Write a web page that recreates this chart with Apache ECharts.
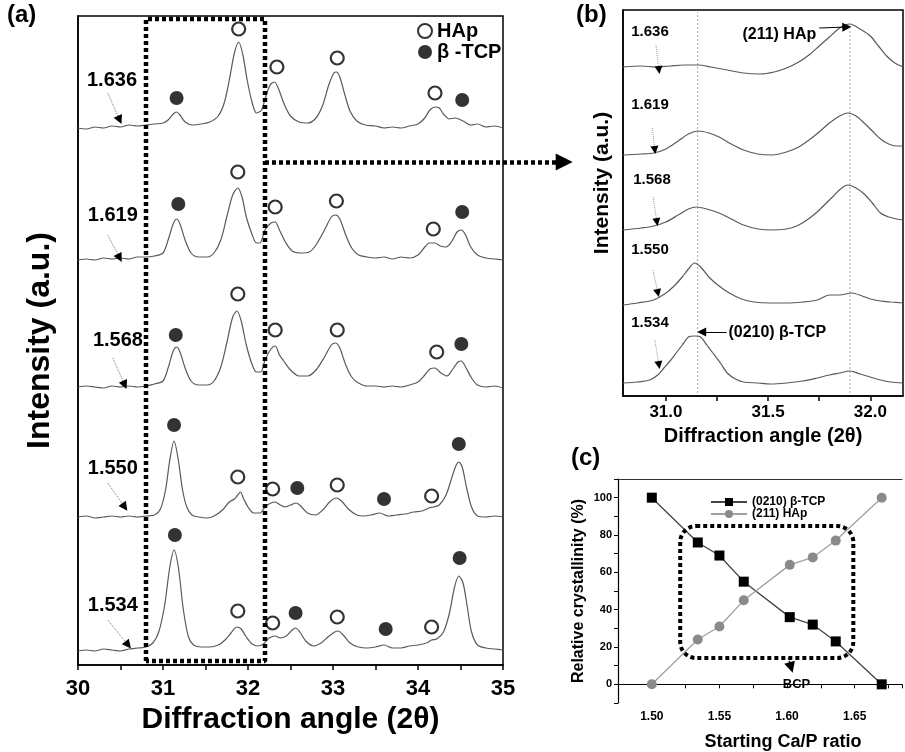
<!DOCTYPE html>
<html><head><meta charset="utf-8">
<script src="https://cdn.jsdelivr.net/npm/echarts@6.0.0/dist/echarts.min.js"></script>
<style>html,body{margin:0;padding:0;background:#fff;overflow:hidden}#c{width:905px;height:752px}</style>
</head><body><div id="c"></div>
<script>
const FONT = "'Liberation Sans', Arial, Helvetica, sans-serif";

// ---------------- panel (a): XRD patterns 30-35 deg (intensity a.u., stacked) ----------------
const ratiosA = ['1.636', '1.619', '1.568', '1.550', '1.534'];
const xrd1636 = [[30.00,537],[30.1,536],[30.2,538],[30.3,537],[30.4,539],[30.5,538],[30.6,540],[30.7,539],[30.8,540],[30.9,541],[31.0,542],[31.06,545],[31.12,551],[31.16,553],[31.2,550],[31.26,543],[31.35,540],[31.45,541],[31.55,543],[31.65,549],[31.72,562],[31.78,585],[31.84,612],[31.89,623],[31.94,610],[31.99,585],[32.05,562],[32.1,552],[32.16,555],[32.2,566],[32.26,580],[32.31,583],[32.36,576],[32.42,562],[32.5,549],[32.6,543],[32.7,542],[32.8,547],[32.88,560],[32.95,580],[33.01,592],[33.04,593],[33.08,588],[33.14,570],[33.2,554],[33.28,544],[33.38,540],[33.5,539],[33.6,537],[33.7,538],[33.8,537],[33.9,539],[34.0,541],[34.08,547],[34.14,555],[34.2,558],[34.25,557],[34.3,551],[34.37,546],[34.43,547],[34.48,546],[34.55,543],[34.62,540],[34.7,541],[34.8,538],[34.9,539],[35.0,537]];
const xrd1619 = [[30.0,405],[30.1,406],[30.2,405],[30.3,407],[30.4,406],[30.5,407],[30.6,406],[30.7,408],[30.8,408],[30.9,409],[31.0,412],[31.06,425],[31.12,441],[31.16,446],[31.2,441],[31.26,425],[31.33,412],[31.42,408],[31.52,408],[31.6,412],[31.68,425],[31.75,448],[31.82,470],[31.88,477],[31.93,468],[31.98,448],[32.05,430],[32.1,422],[32.14,422],[32.2,435],[32.27,442],[32.32,443],[32.37,435],[32.44,423],[32.52,414],[32.62,412],[32.72,413],[32.8,420],[32.9,435],[32.98,448],[33.03,450],[33.08,446],[33.15,430],[33.22,417],[33.3,410],[33.4,408],[33.5,407],[33.6,408],[33.7,406],[33.8,408],[33.9,407],[34.0,410],[34.08,418],[34.13,422],[34.2,422],[34.26,419],[34.33,418],[34.4,424],[34.46,433],[34.51,435],[34.56,430],[34.62,418],[34.7,410],[34.8,407],[34.9,406],[35.0,405]];
const xrd1568 = [[30.0,278],[30.1,279],[30.2,278],[30.3,277],[30.4,279],[30.5,278],[30.6,279],[30.7,278],[30.8,279],[30.9,281],[31.0,284],[31.06,297],[31.12,314],[31.16,318],[31.2,313],[31.26,297],[31.33,284],[31.42,280],[31.52,280],[31.6,284],[31.68,298],[31.75,322],[31.82,348],[31.87,354],[31.92,344],[31.98,320],[32.05,300],[32.1,293],[32.15,293],[32.2,305],[32.27,316],[32.32,319],[32.37,310],[32.42,304],[32.5,295],[32.6,289],[32.7,289],[32.8,295],[32.9,308],[32.98,320],[33.03,322],[33.08,317],[33.15,300],[33.22,288],[33.3,282],[33.4,279],[33.5,279],[33.6,278],[33.7,279],[33.8,278],[33.9,280],[34.0,283],[34.08,290],[34.14,296],[34.2,297],[34.27,292],[34.34,289],[34.41,296],[34.47,303],[34.51,304],[34.56,298],[34.63,287],[34.7,280],[34.8,278],[34.9,279],[35.0,277]];
const xrd1550 = [[30.0,148],[30.1,149],[30.2,147],[30.3,148],[30.4,149],[30.5,148],[30.6,149],[30.7,148],[30.8,149],[30.9,150],[30.97,156],[31.03,175],[31.08,205],[31.13,224],[31.18,205],[31.23,175],[31.28,158],[31.34,150],[31.42,148],[31.52,147],[31.6,149],[31.7,155],[31.78,163],[31.84,166],[31.88,170],[31.91,173],[31.95,166],[32.0,158],[32.07,152],[32.14,152],[32.2,158],[32.27,162],[32.32,163],[32.38,160],[32.44,158],[32.5,160],[32.57,162],[32.63,158],[32.7,152],[32.79,150],[32.88,155],[32.96,163],[33.04,167],[33.1,164],[33.18,156],[33.28,150],[33.36,149],[33.45,150],[33.55,152],[33.65,149],[33.75,150],[33.85,151],[33.95,153],[34.05,154],[34.13,157],[34.18,158],[34.25,160],[34.33,170],[34.4,188],[34.45,200],[34.48,203],[34.52,198],[34.57,178],[34.63,158],[34.7,149],[34.8,148],[34.9,149],[35.0,148]];
const xrd1534 = [[30.0,14],[30.1,15],[30.2,14],[30.3,16],[30.4,15],[30.5,14],[30.6,16],[30.7,17],[30.8,18],[30.88,22],[30.95,33],[31.02,60],[31.08,98],[31.13,115],[31.18,98],[31.24,55],[31.3,28],[31.36,20],[31.45,18],[31.55,18],[31.65,20],[31.73,25],[31.8,32],[31.87,38],[31.92,36],[31.98,28],[32.05,21],[32.12,19],[32.18,21],[32.25,27],[32.32,29],[32.38,27],[32.45,29],[32.52,35],[32.56,37],[32.61,33],[32.68,24],[32.77,19],[32.86,22],[32.94,28],[33.02,33],[33.06,34],[33.12,30],[33.2,22],[33.3,18],[33.4,17],[33.5,18],[33.6,20],[33.7,17],[33.8,17],[33.9,19],[34.0,20],[34.1,22],[34.16,25],[34.22,26],[34.3,33],[34.37,52],[34.43,78],[34.48,89],[34.53,82],[34.58,58],[34.63,33],[34.7,20],[34.8,17],[34.9,16],[35.0,15]];
const hapPeaksA = [[31.89,636],[32.34,598],[33.05,607],[34.2,572],
                   [31.88,493],[32.32,458],[33.04,464],[34.18,436],
                   [31.88,371],[32.32,335],[33.05,335],[34.22,313],
                   [31.88,188],[32.29,176],[33.05,180],[34.16,169],
                   [31.88,54],[32.29,42],[33.05,48],[34.16,38]];
const tcpPeaksA = [[31.16,567],[34.52,565],
                   [31.18,461],[34.52,453],
                   [31.15,330],[34.51,321],
                   [31.13,240],[32.58,177],[33.6,166],[34.48,221],
                   [31.14,130],[32.56,52],[33.62,36],[34.49,107]];
const labelPosA = [[30.4,585],[30.41,450],[30.47,325],[30.41,197],[30.41,60]];
const labelArrowsA = [[[30.35,572],[30.49,545]],[[30.35,430],[30.49,407]],[[30.41,307],[30.55,280]],[[30.35,182],[30.55,158]],[[30.35,45],[30.59,20]]];
const zoomBoxA = [[30.8,4],[30.8,646],[32.2,646],[32.2,4],[30.8,4]];
const zoomArrowA = [[32.2,503],[35.72,503]];

// ---------------- panel (b): enlarged 30.8-32.15 deg ----------------
const ratiosB = ['1.636', '1.619', '1.568', '1.550', '1.534'];
const zoom1636 = [[30.79,329],[30.88,330],[30.95,329],[31.02,330],[31.09,331],[31.16,331],[31.22,329],[31.3,326],[31.38,323],[31.46,322],[31.53,324],[31.59,328],[31.65,334],[31.7,341],[31.75,350],[31.8,359],[31.85,368],[31.9,372],[31.95,367],[32.0,360],[32.04,350],[32.08,340],[32.12,333],[32.16,329]];
const zoom1619 = [[30.79,241],[30.88,242],[30.94,243],[31.0,247],[31.06,255],[31.11,262],[31.16,265],[31.21,263],[31.26,259],[31.32,252],[31.38,246],[31.45,242],[31.52,241],[31.59,244],[31.65,249],[31.7,256],[31.75,264],[31.8,273],[31.85,280],[31.89,283],[31.93,280],[31.97,273],[32.01,265],[32.05,257],[32.09,252],[32.13,250],[32.16,250]];
const zoom1568 = [[30.79,166],[30.88,168],[30.94,170],[31.0,174],[31.06,181],[31.11,187],[31.15,189],[31.2,187],[31.26,183],[31.32,177],[31.38,171],[31.45,167],[31.52,166],[31.59,167],[31.64,170],[31.69,176],[31.74,184],[31.78,192],[31.82,200],[31.86,208],[31.89,211],[31.93,208],[31.97,202],[32.01,193],[32.05,183],[32.09,179],[32.13,177],[32.16,176]];
const zoom1550 = [[30.79,91],[30.86,93],[30.94,96],[31.0,103],[31.04,110],[31.08,119],[31.11,127],[31.14,133],[31.17,129],[31.21,119],[31.26,110],[31.31,103],[31.37,97],[31.43,94],[31.51,93],[31.59,93],[31.67,94],[31.74,96],[31.8,101],[31.85,101],[31.91,103],[31.96,100],[32.0,97],[32.05,95],[32.1,94],[32.16,93]];
const zoom1534 = [[30.79,13],[30.86,14],[30.92,16],[30.96,21],[30.99,28],[31.02,35],[31.05,43],[31.08,51],[31.11,59],[31.14,60],[31.17,59],[31.2,51],[31.23,43],[31.27,32],[31.3,23],[31.34,17],[31.38,14],[31.45,13],[31.51,12],[31.59,13],[31.67,15],[31.74,18],[31.8,21],[31.85,23],[31.9,25],[31.95,22],[32.0,19],[32.05,16],[32.1,14],[32.16,13]];
const refLinesB = [[[31.155,3],[31.155,384]],[[31.9,3],[31.9,371]]];
const labelPosB = [[30.922,364],[30.922,291],[30.932,216],[30.922,146],[30.922,73]];
const labelArrowsB = [[[30.951,351],[30.966,326]],[[30.934,268],[30.946,246]],[[30.937,199],[30.956,174]],[[30.937,126],[30.961,103]],[[30.946,56],[30.966,31]]];
const peakNamesB = ['(211) HAp', '(0210) β-TCP'];
const peakNamePosB = [[31.555,361],[31.545,63]];
const peakArrowsB = [[[31.75,368],[31.885,369]],[[31.297,64],[31.175,64]]];

// ---------------- panel (c): relative crystallinity ----------------
const caP = [1.50, 1.534, 1.550, 1.568, 1.602, 1.619, 1.636, 1.67];
const tcpCryst = [100, 76, 69, 55, 36, 32, 23, 0];
const hapCryst = [0, 24, 31, 45, 64, 68, 77, 100];
const bcpCorners = [[1.521,84.8],[1.649,14.1]];
const bcpArrow = [[1.601,14],[1.603,9]];
const bcpLabelPos = [1.607, 0];

const chart = echarts.init(document.getElementById('c'), null, {renderer: 'canvas'});

const bold = (size) => ({fontFamily: FONT, fontWeight: 'bold', fontSize: size, color: '#000'});
const pair = (xs, ys) => xs.map((x, i) => [x, ys[i]]);

function curve(name, data, idx) {
  return {type: 'line', name: name, xAxisIndex: idx, yAxisIndex: idx, data: data, showSymbol: false,
    smooth: 0.3, lineStyle: {color: '#5a5a5a', width: 1.2}, z: 3, silent: true};
}
function arrows(list, idx, lineColor, dash, width, headSize, clip) {
  return [
    {type: 'lines', coordinateSystem: 'cartesian2d', xAxisIndex: idx, yAxisIndex: idx, clip: clip,
      data: list.map(c => ({coords: c})), symbol: ['none', 'none'],
      lineStyle: {color: lineColor, width: width, type: dash, opacity: 1}, z: 6, silent: true},
    {type: 'lines', coordinateSystem: 'cartesian2d', xAxisIndex: idx, yAxisIndex: idx, clip: clip,
      data: list.map(c => ({coords: c})), symbol: ['none', 'triangle'], symbolSize: headSize,
      lineStyle: {color: '#000', width: 0, opacity: 1}, z: 7, silent: true}
  ];
}
function textMarks(pos, texts, idx, size) {
  return {type: 'scatter', xAxisIndex: idx, yAxisIndex: idx, symbolSize: 0.01,
    itemStyle: {color: '#000'}, z: 8, silent: true,
    data: pos.map((p, i) => ({value: p, name: texts[i]})),
    label: Object.assign({show: true, position: [0, 0], align: 'center', verticalAlign: 'middle', formatter: '{b}',
      textBorderWidth: 0, opacity: 1}, bold(size))};
}

const series = [];
// (a)
[xrd1636, xrd1619, xrd1568, xrd1550, xrd1534].forEach((d, i) => series.push(curve('a' + ratiosA[i], d, 0)));
series.push({type: 'scatter', name: 'HAp', xAxisIndex: 0, yAxisIndex: 0, data: hapPeaksA, symbol: 'circle', symbolSize: 13,
  itemStyle: {color: '#fff', borderColor: '#000', borderWidth: 2.2}, z: 5, silent: true});
series.push({type: 'scatter', name: 'β -TCP', xAxisIndex: 0, yAxisIndex: 0, data: tcpPeaksA, symbol: 'circle', symbolSize: 14,
  itemStyle: {color: '#000'}, z: 5, silent: true});
series.push(textMarks(labelPosA, ratiosA, 0, 20));
series.push(...arrows(labelArrowsA, 0, '#777', 'dotted', 1, 9, true));
series.push({type: 'line', name: 'box', xAxisIndex: 0, yAxisIndex: 0, data: zoomBoxA, showSymbol: false, silent: true,
  lineStyle: {color: '#000', width: 4.5, type: [4, 3]}, z: 6});
series.push({type: 'lines', coordinateSystem: 'cartesian2d', xAxisIndex: 0, yAxisIndex: 0, clip: false, silent: true,
  data: [{coords: zoomArrowA}], symbol: ['none', 'triangle'], symbolSize: 17,
  lineStyle: {color: '#000', width: 4.5, type: [4, 3], opacity: 1}, z: 6});
// (b)
[zoom1636, zoom1619, zoom1568, zoom1550, zoom1534].forEach((d, i) => series.push(curve('b' + ratiosB[i], d, 1)));
refLinesB.forEach(r => series.push({type: 'line', xAxisIndex: 1, yAxisIndex: 1, data: r, showSymbol: false, silent: true,
  lineStyle: {color: '#aaa', width: 1, type: [2, 2]}, z: 2}));
series.push(textMarks(labelPosB, ratiosB, 1, 15));
series.push(...arrows(labelArrowsB, 1, '#999', 'dotted', 1, 8, true));
series.push(textMarks(peakNamePosB, peakNamesB, 1, 16));
series.push(...arrows(peakArrowsB, 1, '#000', 'solid', 1, 9, true));
// (c)
series.push({type: 'line', name: '(0210) β-TCP', xAxisIndex: 2, yAxisIndex: 2, data: pair(caP, tcpCryst),
  symbol: 'rect', symbolSize: 10, itemStyle: {color: '#000'}, lineStyle: {color: '#444', width: 1.3}, z: 4, silent: true});
series.push({type: 'line', name: '(211) HAp', xAxisIndex: 2, yAxisIndex: 2, data: pair(caP, hapCryst),
  symbol: 'circle', symbolSize: 10, itemStyle: {color: '#8a8a8a'}, lineStyle: {color: '#a0a0a0', width: 1.3}, z: 4, silent: true});
series.push(...arrows([bcpArrow], 2, '#000', 'dotted', 1.5, 11, false));
series.push(textMarks([bcpLabelPos], ['BCP'], 2, 13));

const frameAxis = (extra) => Object.assign({axisLine: {show: true, lineStyle: {color: '#000', width: 1.5}}, splitLine: {show: false}}, extra);

const option = {
  animation: false,
  backgroundColor: '#fff',
  textStyle: {fontFamily: FONT},
  title: [
    {text: '(a)', left: 7, top: 3, padding: 0, textStyle: bold(24)},
    {text: '(b)', left: 576, top: 3, padding: 0, textStyle: bold(24)},
    {text: '(c)', left: 571, top: 446, padding: 0, textStyle: bold(24)}
  ],
  legend: [
    {data: ['HAp', 'β -TCP'], left: 417, top: 21, orient: 'vertical', itemGap: 1, itemWidth: 14, itemHeight: 14,
      icon: 'circle', padding: 0, selectedMode: false, textStyle: bold(20)},
    {data: ['(0210) β-TCP', '(211) HAp'], left: 710, top: 496, orient: 'vertical', itemGap: 0, itemWidth: 36, itemHeight: 10,
      padding: 0, selectedMode: false, textStyle: bold(12)}
  ],
  grid: [
    {left: 78, top: 16, width: 425, height: 649, show: true, borderColor: '#000', borderWidth: 1.5, backgroundColor: 'transparent'},
    {left: 623, top: 10, width: 280, height: 386, show: true, borderColor: '#000', borderWidth: 1.5, backgroundColor: 'transparent'},
    {left: 618, top: 479, width: 284, height: 224, show: false}
  ],
  xAxis: [
    frameAxis({type: 'value', gridIndex: 0, min: 30, max: 35, interval: 0.5,
      axisTick: {show: true, inside: false, length: 5, lineStyle: {color: '#000', width: 1.5}},
      axisLabel: Object.assign({margin: 13, formatter: v => (Math.abs(v - Math.round(v)) < 1e-6 ? String(Math.round(v)) : '')}, bold(22)),
      name: 'Diffraction angle (2θ)', nameLocation: 'middle', nameGap: 37, nameTextStyle: bold(30)}),
    frameAxis({type: 'value', gridIndex: 1, min: 30.79, max: 32.16,
      axisTick: {show: true, inside: false, length: 5, customValues: [31.0, 31.25, 31.5, 31.75, 32.0], lineStyle: {color: '#000', width: 1.5}},
      axisLabel: Object.assign({margin: 8, customValues: [31.0, 31.5, 32.0], formatter: v => v.toFixed(1)}, bold(17)),
      name: 'Diffraction angle (2θ)', nameLocation: 'middle', nameGap: 30, nameTextStyle: bold(20)}),
    frameAxis({type: 'value', gridIndex: 2, min: 1.475, max: 1.685, interval: 0.025,
      axisLine: {show: true, lineStyle: {color: '#000', width: 1.2}},
      axisTick: {show: true, inside: false, length: 4, lineStyle: {color: '#000', width: 1}},
      axisLabel: Object.assign({margin: 8, formatter: v => (Math.round(v * 1000) % 50 === 0 ? v.toFixed(2) : '')}, bold(12)),
      name: 'Starting Ca/P ratio', nameLocation: 'middle', nameGap: 30,
      nameTextStyle: Object.assign({padding: [0, 0, 0, 46]}, bold(18))}),
    {type: 'value', gridIndex: 2, position: 'top', min: 1.475, max: 1.685,
      axisLine: {show: true, lineStyle: {color: '#333', width: 1}}, axisTick: {show: false}, axisLabel: {show: false}, splitLine: {show: false}}
  ],
  yAxis: [
    frameAxis({type: 'value', gridIndex: 0, min: 0, max: 649, axisTick: {show: false}, axisLabel: {show: false},
      name: 'Intensity (a.u.)', nameLocation: 'middle', nameRotate: 90, nameGap: 22, nameTextStyle: bold(32)}),
    frameAxis({type: 'value', gridIndex: 1, min: 0, max: 386, axisTick: {show: false}, axisLabel: {show: false},
      name: 'Intensity (a.u.)', nameLocation: 'middle', nameRotate: 90, nameGap: 10,
      nameTextStyle: Object.assign({padding: [0, 0, 0, 40]}, bold(21))}),
    frameAxis({type: 'value', gridIndex: 2, min: -10, max: 110, interval: 10,
      axisLine: {show: true, lineStyle: {color: '#000', width: 1.2}},
      axisTick: {show: true, inside: false, length: 4, lineStyle: {color: '#000', width: 1}},
      axisLabel: Object.assign({margin: 6, formatter: v => (v >= 0 && v <= 100 && Math.round(v) % 20 === 0 ? String(Math.round(v)) : '')}, bold(11)),
      name: 'Relative crystallinity (%)', nameLocation: 'middle', nameRotate: 90, nameGap: 31, nameTextStyle: bold(16)})
  ],
  series: series
};
chart.setOption(option);

// BCP rounded dotted frame, positioned from data coordinates of panel (c)
const p1 = chart.convertToPixel({xAxisIndex: 2, yAxisIndex: 2}, bcpCorners[0]);
const p2 = chart.convertToPixel({xAxisIndex: 2, yAxisIndex: 2}, bcpCorners[1]);
chart.setOption({graphic: [{type: 'rect', z: 10, silent: true,
  shape: {x: Math.min(p1[0], p2[0]), y: Math.min(p1[1], p2[1]), width: Math.abs(p2[0] - p1[0]), height: Math.abs(p2[1] - p1[1]), r: 16},
  style: {fill: 'none', stroke: '#000', lineWidth: 4, lineDash: [4, 3]}}]});
</script>
</body></html>
